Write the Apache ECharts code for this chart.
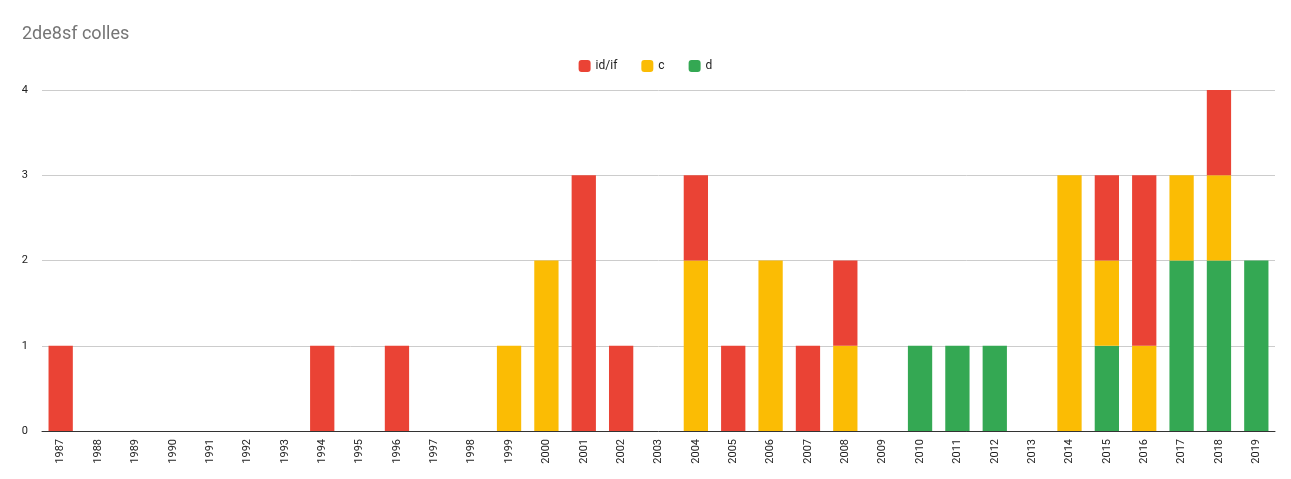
<!DOCTYPE html>
<html>
<head>
<meta charset="utf-8">
<script src="https://cdn.jsdelivr.net/npm/echarts@6/dist/echarts.min.js"></script>
<style>html,body{margin:0;padding:0;background:#fff}#chart{width:1291px;height:479px}</style>
</head>
<body>
<div id="chart"></div>
<script>
var years = [];
for (var y = 1987; y <= 2019; y++) years.push(String(y));
// values per year, 1987..2019
var idif = [1,0,0,0,0,0,0,1,0,1,0,0,0,0,3,1,0,1,1,0,1,1,0,0,0,0,0,0,1,2,0,1,0];
var cVals = [0,0,0,0,0,0,0,0,0,0,0,0,1,2,0,0,0,2,0,2,0,1,0,0,0,0,0,3,1,1,1,1,0];
var dVals = [0,0,0,0,0,0,0,0,0,0,0,0,0,0,0,0,0,0,0,0,0,0,0,1,1,1,0,0,1,0,2,2,2];

var chart = echarts.init(document.getElementById('chart'));
chart.setOption({
	animation: false,
	title: {
		text: '2de8sf colles',
		left: 17, top: 20,
		textStyle: {fontFamily: 'Roboto', fontSize: 18, fontWeight: 'normal', color: '#757575'}
	},
	legend: {
		data: ['id/if', 'c', 'd'],
		top: 55, left: 'center',
		itemWidth: 12, itemHeight: 12, icon: 'roundRect', itemGap: 24,
		textStyle: {fontFamily: 'Roboto', fontSize: 12, color: '#222'}
	},
	grid: {left: 42, right: 16, top: 90, bottom: 48},
	xAxis: {
		type: 'category',
		data: years,
		axisTick: {show: false},
		axisLine: {lineStyle: {color: '#333'}},
		axisLabel: {rotate: 90, interval: 0, fontFamily: 'Roboto', fontSize: 11, color: '#222'}
	},
	yAxis: {
		type: 'value', min: 0, max: 4, interval: 1,
		axisLabel: {fontFamily: 'Roboto', fontSize: 11, color: '#222', margin: 14},
		splitLine: {lineStyle: {color: '#ccc'}}
	},
	series: [
		{name: 'd', type: 'bar', stack: 's', data: dVals, barWidth: '65%', itemStyle: {color: '#34a853'}},
		{name: 'c', type: 'bar', stack: 's', data: cVals, itemStyle: {color: '#fbbc04'}},
		{name: 'id/if', type: 'bar', stack: 's', data: idif, itemStyle: {color: '#ea4335'}}
	]
});
</script>
</body>
</html>
